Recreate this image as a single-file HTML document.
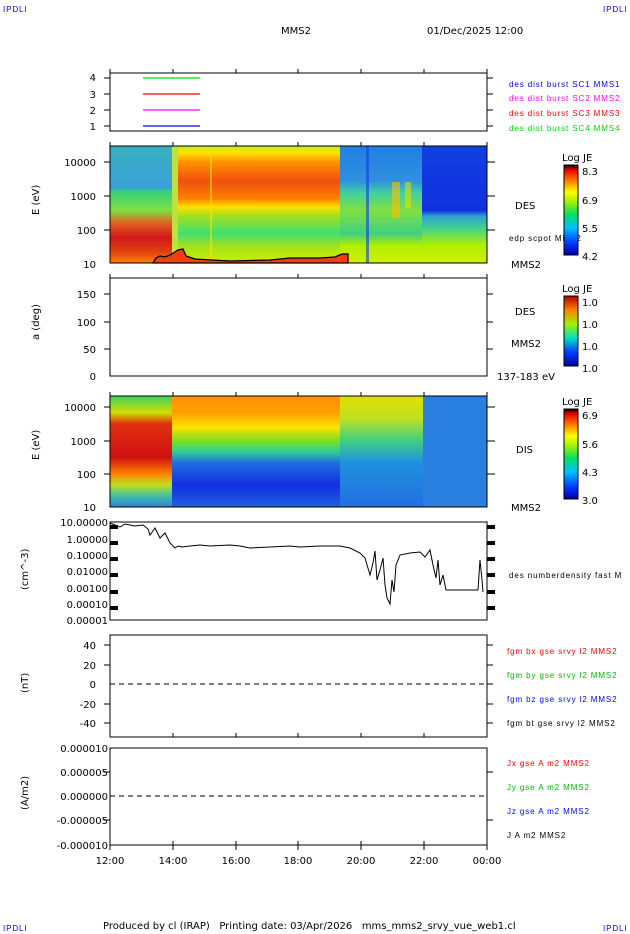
<!DOCTYPE html>
<html><head><meta charset="utf-8"><style>
body{margin:0;background:#fff}
svg{display:block;font-family:"DejaVu Sans","Liberation Sans",sans-serif}
text{font-size:10px}
text.s,.s text{font-size:8px;font-family:"Liberation Sans",sans-serif;letter-spacing:.9px}
</style></head><body>
<svg width="630" height="934" viewBox="0 0 630 934" xmlns="http://www.w3.org/2000/svg">
<defs>
<linearGradient id="cb1" x1="0" y1="1" x2="0" y2="0">
<stop offset="0" stop-color="#0000a0"/><stop offset=".12" stop-color="#0030ff"/><stop offset=".3" stop-color="#00c0ff"/><stop offset=".45" stop-color="#00e060"/><stop offset=".6" stop-color="#b0f000"/><stop offset=".7" stop-color="#ffff00"/><stop offset=".85" stop-color="#ff6000"/><stop offset=".95" stop-color="#e00000"/><stop offset="1" stop-color="#000"/></linearGradient>
<linearGradient id="dA" x1="0" y1="0" x2="0" y2="1">
<stop offset="0" stop-color="#38b0c0"/><stop offset=".36" stop-color="#3aa0d8"/><stop offset=".38" stop-color="#30d080"/><stop offset=".55" stop-color="#80e040"/><stop offset=".66" stop-color="#e06020"/><stop offset=".78" stop-color="#d01818"/><stop offset=".9" stop-color="#e04010"/><stop offset="1" stop-color="#ff8000"/></linearGradient>
<linearGradient id="dB" x1="0" y1="0" x2="0" y2="1">
<stop offset="0" stop-color="#c0f020"/><stop offset=".06" stop-color="#ffe000"/><stop offset=".14" stop-color="#ff9000"/><stop offset=".3" stop-color="#f05010"/><stop offset=".45" stop-color="#ff8000"/><stop offset=".52" stop-color="#ffe000"/><stop offset=".6" stop-color="#a0e020"/><stop offset=".75" stop-color="#40e070"/><stop offset=".85" stop-color="#a0e020"/><stop offset="1" stop-color="#d0f000"/></linearGradient>
<linearGradient id="dC" x1="0" y1="0" x2="0" y2="1">
<stop offset="0" stop-color="#2080e0"/><stop offset=".3" stop-color="#3090e0"/><stop offset=".4" stop-color="#40d0a0"/><stop offset=".55" stop-color="#80e040"/><stop offset=".75" stop-color="#40d080"/><stop offset=".85" stop-color="#b0f000"/><stop offset="1" stop-color="#d0f000"/></linearGradient>
<linearGradient id="dD" x1="0" y1="0" x2="0" y2="1">
<stop offset="0" stop-color="#1040e0"/><stop offset=".55" stop-color="#1030e0"/><stop offset=".6" stop-color="#30a0d0"/><stop offset=".7" stop-color="#40d090"/><stop offset=".85" stop-color="#b0f000"/><stop offset="1" stop-color="#d0f000"/></linearGradient>
<linearGradient id="iA" x1="0" y1="0" x2="0" y2="1">
<stop offset="0" stop-color="#40d060"/><stop offset=".15" stop-color="#d0e000"/><stop offset=".25" stop-color="#e03010"/><stop offset=".55" stop-color="#d01010"/><stop offset=".7" stop-color="#ff8000"/><stop offset=".8" stop-color="#c0e020"/><stop offset=".9" stop-color="#40c0a0"/><stop offset="1" stop-color="#3080e0"/></linearGradient>
<linearGradient id="iB" x1="0" y1="0" x2="0" y2="1">
<stop offset="0" stop-color="#ff9000"/><stop offset=".15" stop-color="#ffa000"/><stop offset=".28" stop-color="#ffe000"/><stop offset=".4" stop-color="#80e020"/><stop offset=".5" stop-color="#30d090"/><stop offset=".6" stop-color="#2070e0"/><stop offset=".8" stop-color="#1030e0"/><stop offset="1" stop-color="#2060e0"/></linearGradient>
<linearGradient id="iC" x1="0" y1="0" x2="0" y2="1">
<stop offset="0" stop-color="#e0e000"/><stop offset=".2" stop-color="#c0e020"/><stop offset=".4" stop-color="#40d080"/><stop offset=".6" stop-color="#2090e0"/><stop offset="1" stop-color="#2070e0"/></linearGradient>
<linearGradient id="cb2" x1="0" y1="1" x2="0" y2="0"><stop offset="0" stop-color="#0000a0"/><stop offset=".2" stop-color="#0040ff"/><stop offset=".4" stop-color="#00e0c0"/><stop offset=".6" stop-color="#a0f000"/><stop offset=".8" stop-color="#ff8000"/><stop offset="1" stop-color="#b00000"/></linearGradient>
</defs>
<text x="3" y="12" class="s" fill="#00c">IPDLI</text><text x="603" y="12" class="s" fill="#00c">IPDLI</text>
<text x="3" y="931" class="s" fill="#00c">IPDLI</text><text x="603" y="931" class="s" fill="#00c">IPDLI</text>
<text x="281" y="34" font-size="12">MMS2</text><text x="427" y="34" font-size="12">01/Dec/2025 12:00</text>

<rect x="110" y="73" width="377" height="58" fill="none" stroke="#000"/>
<g stroke-width="1.3"><line x1="143" y1="78" x2="200" y2="78" stroke="#0d0"/><line x1="143" y1="94" x2="200" y2="94" stroke="#f00"/><line x1="143" y1="110" x2="200" y2="110" stroke="#f0f"/><line x1="143" y1="126" x2="200" y2="126" stroke="#00f"/></g>
<g font-size="10" text-anchor="end"><text x="96" y="81">4</text><text x="96" y="98">3</text><text x="96" y="114">2</text><text x="96" y="130">1</text></g>
<g class="s"><text x="509" y="87" fill="#00f">des dist burst SC1 MMS1</text><text x="509" y="101" fill="#f0f">des dist burst SC2 MMS2</text><text x="509" y="116" fill="#f00">des dist burst SC3 MMS3</text><text x="509" y="131" fill="#0d0">des dist burst SC4 MMS4</text></g>

<rect x="110" y="146" width="63" height="117" fill="url(#dA)"/>
<rect x="172" y="146" width="6" height="117" fill="#c0e040"/>
<rect x="178" y="146" width="164" height="117" fill="url(#dB)"/>
<rect x="340" y="146" width="82" height="117" fill="url(#dC)"/>
<rect x="422" y="146" width="65" height="117" fill="url(#dD)"/>
<g opacity=".6"><rect x="366" y="146" width="3" height="117" fill="#1040e0"/><rect x="392" y="182" width="8" height="36" fill="#ffc000"/><rect x="405" y="182" width="6" height="26" fill="#e0e000"/><rect x="210" y="150" width="2" height="113" fill="#ffe000"/></g>
<polygon points="153,263 156,258 160,256 165,257 170,255 175,252 178,250 183,249 186,256 195,259 230,261 270,260 290,258 320,258 335,257 342,254 348,254 348,263" fill="#f04010" stroke="#000" stroke-width="1.3"/>
<rect x="110" y="146" width="377" height="117" fill="none" stroke="#000"/>
<g text-anchor="end" font-size="10"><text x="96" y="166">10000</text><text x="96" y="200">1000</text><text x="96" y="234">100</text><text x="96" y="268">10</text></g>
<text transform="translate(39,215) rotate(-90)" font-size="10">E (eV)</text>
<text x="515" y="209">DES</text><text x="509" y="241" class="s">edp scpot MMS2</text><text x="511" y="268">MMS2</text>
<text x="562" y="161">Log JE</text><rect x="564" y="165" width="14" height="90" fill="url(#cb1)" stroke="#000"/>
<g font-size="10"><text x="582" y="175">8.3</text><text x="582" y="204">6.9</text><text x="582" y="232">5.5</text><text x="582" y="260">4.2</text></g>

<rect x="110" y="278" width="377" height="98" fill="none" stroke="#000"/>
<g text-anchor="end" font-size="10"><text x="96" y="298">150</text><text x="96" y="326">100</text><text x="96" y="353">50</text><text x="96" y="380">0</text></g>
<text transform="translate(39,340) rotate(-90)">a (deg)</text>
<text x="515" y="315">DES</text><text x="511" y="347">MMS2</text><text x="497" y="380">137-183 eV</text>
<text x="562" y="292">Log JE</text>
<rect x="564" y="296" width="14" height="70" fill="url(#cb2)" stroke="#000"/>
<g font-size="10"><text x="582" y="306">1.0</text><text x="582" y="328">1.0</text><text x="582" y="350">1.0</text><text x="582" y="372">1.0</text></g>

<rect x="110" y="396" width="62" height="111" fill="url(#iA)"/>
<rect x="172" y="396" width="251" height="111" fill="url(#iB)"/>
<rect x="340" y="396" width="83" height="111" fill="url(#iC)"/>
<rect x="423" y="396" width="64" height="111" fill="#2a80e0"/>
<rect x="110" y="396" width="377" height="111" fill="none" stroke="#000"/>
<g text-anchor="end" font-size="10"><text x="96" y="411">10000</text><text x="96" y="445">1000</text><text x="96" y="478">100</text><text x="96" y="511">10</text></g>
<text transform="translate(39,460) rotate(-90)">E (eV)</text>
<text x="516" y="453">DIS</text><text x="511" y="511">MMS2</text>
<text x="562" y="405">Log JE</text><rect x="564" y="409" width="14" height="90" fill="url(#cb1)" stroke="#000"/>
<g font-size="10"><text x="582" y="419">6.9</text><text x="582" y="448">5.6</text><text x="582" y="476">4.3</text><text x="582" y="504">3.0</text></g>

<rect x="110" y="522" width="377" height="98" fill="none" stroke="#000"/>
<g font-size="10" text-anchor="end"><text x="108" y="526">10.00000</text><text x="108" y="543">1.00000</text><text x="108" y="559">0.10000</text><text x="108" y="575">0.01000</text><text x="108" y="592">0.00100</text><text x="108" y="608">0.00010</text><text x="108" y="624">0.00001</text></g>
<text transform="translate(28,590) rotate(-90)">(cm^-3)</text>
<text x="509" y="578" class="s">des numberdensity fast M</text>
<polyline fill="none" stroke="#000" stroke-width="1" points="110,523 115,525 120,527 125,524 135,526 143,525 148,529 150,535 155,528 160,538 165,533 170,543 175,548 178,546 182,547 190,546 200,545 210,546 230,545 240,546 250,548 270,547 290,546 300,547 320,546 340,546 350,548 360,553 365,558 370,575 373,563 375,551 377,580 380,570 383,558 385,585 387,598 390,604 392,580 394,592 396,565 400,555 410,553 420,552 425,557 430,550 433,565 436,578 438,560 440,585 443,575 446,590 455,590 478,590 480,560 482,580 483,592"/>

<rect x="110" y="635" width="377" height="102" fill="none" stroke="#000"/>
<line x1="110" y1="684" x2="487" y2="684" stroke="#000" stroke-dasharray="5,4"/>
<g font-size="10" text-anchor="end"><text x="96" y="649">40</text><text x="96" y="669">20</text><text x="96" y="688">0</text><text x="96" y="708">-20</text><text x="96" y="727">-40</text></g>
<text transform="translate(28,693) rotate(-90)">(nT)</text>
<g class="s"><text x="507" y="654" fill="#f00">fgm bx gse srvy l2 MMS2</text><text x="507" y="678" fill="#0b0">fgm by gse srvy l2 MMS2</text><text x="507" y="702" fill="#00f">fgm bz gse srvy l2 MMS2</text><text x="507" y="726">fgm bt gse srvy l2 MMS2</text></g>

<rect x="110" y="748" width="377" height="97" fill="none" stroke="#000"/>
<line x1="110" y1="796" x2="487" y2="796" stroke="#000" stroke-dasharray="5,4"/>
<g font-size="10" text-anchor="end"><text x="108" y="752">0.000010</text><text x="108" y="776">0.000005</text><text x="108" y="800">0.000000</text><text x="108" y="824">-0.000005</text><text x="108" y="849">-0.000010</text></g>
<text transform="translate(28,810) rotate(-90)">(A/m2)</text>
<g class="s"><text x="507" y="766" fill="#f00">Jx gse A m2 MMS2</text><text x="507" y="790" fill="#0b0">Jy gse A m2 MMS2</text><text x="507" y="814" fill="#00f">Jz gse A m2 MMS2</text><text x="507" y="838">J A m2 MMS2</text></g>
<g font-size="10" text-anchor="middle"><text x="110" y="864">12:00</text><text x="173" y="864">14:00</text><text x="236" y="864">16:00</text><text x="298" y="864">18:00</text><text x="361" y="864">20:00</text><text x="424" y="864">22:00</text><text x="487" y="864">00:00</text></g>
<text x="103" y="929" font-size="10" xml:space="preserve">Produced by cl (IRAP)   Printing date: 03/Apr/2026   mms_mms2_srvy_vue_web1.cl</text>
<g stroke="#000">
<path d="M110,69v4M173,69v4M236,69v4M298,69v4M361,69v4M424,69v4M487,69v4 M110,142v4M173,142v4M236,142v4M298,142v4M361,142v4M424,142v4M487,142v4 M110,274v4M173,274v4M236,274v4M298,274v4M361,274v4M424,274v4M487,274v4 M110,392v4M173,392v4M236,392v4M298,392v4M361,392v4M424,392v4M487,392v4 M110,845v5M173,845v5M236,845v5M298,845v5M361,845v5M424,845v5M487,845v5 M173,737v-4M236,737v-4M298,737v-4M361,737v-4M424,737v-4 M173,845v-4M236,845v-4M298,845v-4M361,845v-4M424,845v-4"/>
<path d="M487,78h6M487,94h6M487,110h6M487,126h6M104,78h6M104,94h6M104,110h6M104,126h6 M487,162h8M487,196h8M487,230h8M104,162h6M104,196h6M104,230h6 M487,294h6M487,322h6M487,349h6M104,294h6M104,322h6M104,349h6 M487,407h8M487,441h8M487,474h8M104,407h6M104,441h6M104,474h6 M487,645h6M487,665h6M487,684h6M487,704h6M487,723h6M104,645h6M104,665h6M104,704h6M104,723h6 M487,772h6M487,820h6M104,772h6M104,820h6"/>
<path d="M110,527h8M110,543h8M110,559h8M110,575h8M110,592h8M110,608h8M487,527h8M487,543h8M487,559h8M487,575h8M487,592h8M487,608h8" stroke-width="4"/>
</g>
</svg>
</body></html>
